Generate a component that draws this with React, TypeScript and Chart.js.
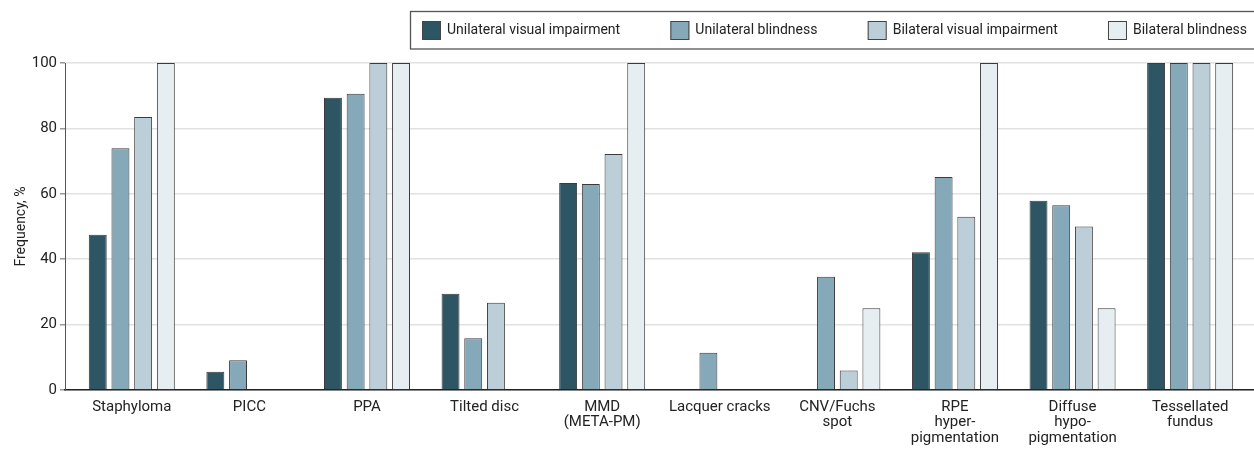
import { useEffect, useRef } from "react";
import { Chart, registerables } from "chart.js";

Chart.register(...registerables);

const categories: string[][] = [
  ["Staphyloma"],
  ["PICC"],
  ["PPA"],
  ["Tilted disc"],
  ["MMD", "(META-PM)"],
  ["Lacquer cracks"],
  ["CNV/Fuchs", "spot"],
  ["RPE", "hyper-", "pigmentation"],
  ["Diffuse", "hypo-", "pigmentation"],
  ["Tessellated", "fundus"],
];

const seriesNames = [
  "Unilateral visual impairment",
  "Unilateral blindness",
  "Bilateral visual impairment",
  "Bilateral blindness",
];

const unilateralVisualImpairment = [47.5, 5.6, 89.4, 29.4, 63.3, 0, 0, 42.1, 57.9, 100];
const unilateralBlindness = [73.9, 9.1, 90.6, 15.8, 63.0, 11.4, 34.6, 65.1, 56.5, 100];
const bilateralVisualImpairment = [83.5, 0, 100, 26.7, 72.2, 0, 6.0, 53.0, 50.0, 100];
const bilateralBlindness = [100, 0, 100, 0, 100, 0, 25.0, 100, 25.0, 100];

const yTickValues = [0, 20, 40, 60, 80, 100];

const seriesColors = ["#2e5563", "#85a9b8", "#bccfd8", "#e6eef1"];

const FONT = "Roboto";

const boxedLegend = {
  id: "boxedLegend",
  afterDraw(chart: any) {
    const ctx = chart.ctx as CanvasRenderingContext2D;
    ctx.save();
    ctx.font = `14px ${FONT}`;
    const boxLeft = 410;
    const boxTop = 11.5;
    const boxBottom = 49;
    const sw = 19;
    const textGap = 6;
    const startX = 422;
    const endX = 1247;
    const items = chart.data.datasets.map((ds: any) => ({
      label: ds.label as string,
      color: ds.backgroundColor as string,
      w: ctx.measureText(ds.label).width,
    }));
    const total = items.reduce((s: number, it: any) => s + sw + textGap + it.w, 0);
    const gap = (endX - startX - total) / (items.length - 1);
    ctx.lineWidth = 1.3;
    ctx.strokeStyle = "#555";
    ctx.strokeRect(boxLeft + 0.5, boxTop, chart.width - boxLeft + 10, boxBottom - boxTop);
    let x = startX;
    const cy = 30.5;
    items.forEach((it: any) => {
      ctx.fillStyle = it.color;
      ctx.fillRect(x, cy - sw / 2, sw, sw);
      ctx.strokeStyle = "#444";
      ctx.lineWidth = 1;
      ctx.strokeRect(x + 0.5, cy - sw / 2 + 0.5, sw - 1, sw - 1);
      ctx.fillStyle = "#222";
      ctx.textBaseline = "middle";
      ctx.textAlign = "left";
      ctx.fillText(it.label, x + sw + textGap, cy);
      x += sw + textGap + it.w + gap;
    });
    ctx.restore();
  },
};

export default function App() {
  const canvasRef = useRef<HTMLCanvasElement | null>(null);

  useEffect(() => {
    document.body.style.margin = "0";
    const canvas = canvasRef.current;
    if (!canvas) return;
    const allSeries = [
      unilateralVisualImpairment,
      unilateralBlindness,
      bilateralVisualImpairment,
      bilateralBlindness,
    ];
    const chart = new Chart(canvas, {
      type: "bar",
      data: {
        datasets: allSeries.map((vals, si) => ({
          label: seriesNames[si],
          data: vals.map((v, i) => ({ x: i, y: v })),
          backgroundColor: seriesColors[si],
          borderColor: "#3a3a3a",
          borderWidth: 1,
          categoryPercentage: 0.772,
          barPercentage: 0.79,
        })),
      },
      options: {
        responsive: false,
        animation: false,
        layout: { padding: { top: 63, right: 0, bottom: 0, left: 0 } },
        plugins: {
          legend: { display: false },
          tooltip: { enabled: false },
        },
        scales: {
          x: {
            type: "linear",
            min: -0.568,
            max: 9.543,
            offset: false,
            afterBuildTicks: (s: any) => {
              s.ticks = categories.map((_, i) => ({ value: i }));
            },
            afterFit: (s: any) => {
              s.height = 63;
            },
            grid: { display: false, drawTicks: false, offset: false },
            border: { display: true, color: "#222", width: 1.5 },
            ticks: {
              autoSkip: false,
              maxRotation: 0,
              minRotation: 0,
              padding: 9,
              color: "#222",
              font: { family: FONT, size: 15, lineHeight: 1.05 },
              callback: (v: any) => categories[Math.round(Number(v))],
            },
          },
          y: {
            min: 0,
            max: 100,
            afterBuildTicks: (s: any) => {
              s.ticks = yTickValues.map((v) => ({ value: v }));
            },
            afterFit: (s: any) => {
              s.width = 65;
            },
            grid: { color: "#e2e2e2", lineWidth: 1.5, tickLength: 5, tickColor: "#999" },
            border: { display: true, color: "#555", width: 1 },
            ticks: {
              padding: 3,
              color: "#222",
              font: { family: FONT, size: 15 },
            },
            title: {
              display: true,
              text: "Frequency, %",
              color: "#222",
              font: { family: FONT, size: 14 },
              padding: { top: 13, bottom: 0 },
            },
          },
        },
      },
      plugins: [boxedLegend],
    } as any);
    return () => chart.destroy();
  }, []);

  return (
    <div style={{ width: 1254, height: 453 }}>
      <canvas ref={canvasRef} width={1254} height={453} style={{ display: "block" }} />
    </div>
  );
}
